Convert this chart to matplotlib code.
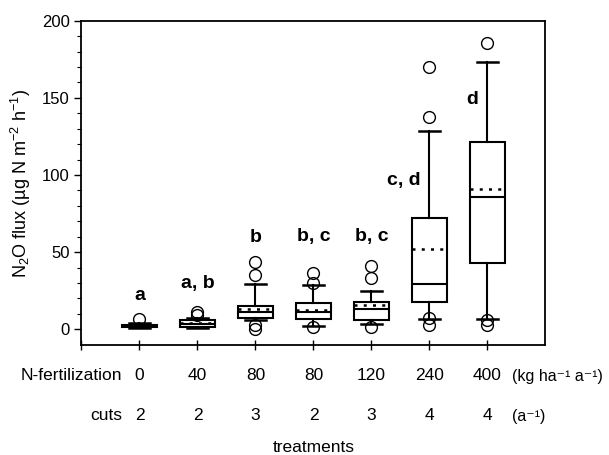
import matplotlib.pyplot as plt
import matplotlib.transforms as mtransforms

plt.rcParams['font.family'] = ['Liberation Sans', 'DejaVu Sans']
plt.rcParams['mathtext.default'] = 'regular'

# treatments
n_fert = ['0', '40', '80', '80', '120', '240', '400']
cuts = ['2', '2', '3', '2', '3', '4', '4']
letters = ['a', 'a, b', 'b', 'b, c', 'b, c', 'c, d', 'd']

# box statistics (10th/25th/50th/75th/90th percentile, mean, outer points)
whislo = [0.8, 1.0, 6.2, 2.3, 3.5, 6.6, 6.8]
q1 = [1.5, 1.6, 7.3, 6.6, 6.2, 18.0, 42.9]
med = [2.0, 3.5, 10.9, 11.3, 13.1, 29.5, 86.0]
mean = [2.3, 4.0, 13.3, 12.4, 15.9, 51.9, 91.0]
q3 = [3.0, 6.0, 15.2, 17.0, 17.8, 72.4, 121.6]
whishi = [3.8, 7.0, 29.5, 28.4, 24.9, 128.8, 173.2]
fliers = [[6.5], [9.5, 11.3], [35.3, 43.9, 3.0, 0.5], [36.8, 29.9, 1.5],
          [33.5, 41.1, 1.5], [137.8, 170.2, 7.2, 2.5], [185.7, 6.0, 3.0]]

# letter positions (baseline, data units) and x shift from box centre
letter_y = [19.1, 26.7, 56.5, 57.0, 57.0, 93.6, 145.9]
letter_dx = [0, 0, 0, 0, 0, -0.45, -0.26]

stats = []
for i in range(len(n_fert)):
    stats.append(dict(whislo=whislo[i], q1=q1[i], med=med[i], mean=mean[i],
                      q3=q3[i], whishi=whishi[i], fliers=fliers[i]))

fig = plt.figure(figsize=(6.09, 4.55), dpi=100)
ax = fig.add_axes([0.1338, 0.2407, 0.7619, 0.7138])

pos = list(range(1, len(n_fert) + 1))
ax.bxp(stats, positions=pos, widths=0.6, showmeans=True, meanline=True,
       patch_artist=True, capwidths=0.36,
       boxprops=dict(facecolor='white', edgecolor='black', linewidth=1.5),
       whiskerprops=dict(color='black', linewidth=1.5),
       capprops=dict(color='black', linewidth=1.8),
       medianprops=dict(color='black', linewidth=1.5),
       meanprops=dict(color='black', linewidth=1.8, linestyle=(0, (1.2, 2.5))),
       flierprops=dict(marker='o', markersize=8.5, markerfacecolor='none',
                       markeredgecolor='black', markeredgewidth=1.0))

for i, lab in enumerate(letters):
    ax.text(pos[i] + letter_dx[i], letter_y[i], lab, ha='center', va='baseline',
            fontsize=14, fontweight='bold')

ax.set_xlim(0, 8)
ax.set_ylim(-10.5, 200)
ax.set_xticks(range(0, 8))
ax.set_xticklabels([])
ax.set_yticks([0, 50, 100, 150, 200])
ax.set_yticks(range(0, 201, 10), minor=True)
ax.tick_params(axis='x', direction='inout', length=7, width=1)
ax.tick_params(axis='y', which='major', direction='out', length=5, width=1,
               labelsize=12)
ax.tick_params(axis='y', which='minor', direction='out', length=3, width=0.8)
for s in ax.spines.values():
    s.set_linewidth(1.3)

ax.set_ylabel('N$_2$O flux (µg N m$^{-2}$ h$^{-1}$)', fontsize=13, labelpad=6)

# treatment table below the axis
trans = mtransforms.blended_transform_factory(ax.transData, fig.transFigure)
row1_y = 1 - 376 / 455
row2_y = 1 - 416 / 455
for i in range(len(n_fert)):
    ax.text(pos[i], row1_y, n_fert[i], transform=trans, ha='center',
            va='center', fontsize=12.5)
    ax.text(pos[i], row2_y, cuts[i], transform=trans, ha='center',
            va='center', fontsize=12.5)
ax.text(0.7, row1_y, 'N-fertilization', transform=trans, ha='right',
        va='center', fontsize=12.5)
ax.text(0.7, row2_y, 'cuts', transform=trans, ha='right', va='center',
        fontsize=12.5)
ax.text(7.42, row1_y, '(kg ha⁻¹ a⁻¹)', transform=trans, ha='left',
        va='center', fontsize=11.5)
ax.text(7.42, row2_y, '(a⁻¹)', transform=trans, ha='left', va='center',
        fontsize=11.5)
ax.text(4, 1 - 447 / 455, 'treatments', transform=trans, ha='center',
        va='center', fontsize=12.5)

fig.savefig('out.png', dpi=100)
